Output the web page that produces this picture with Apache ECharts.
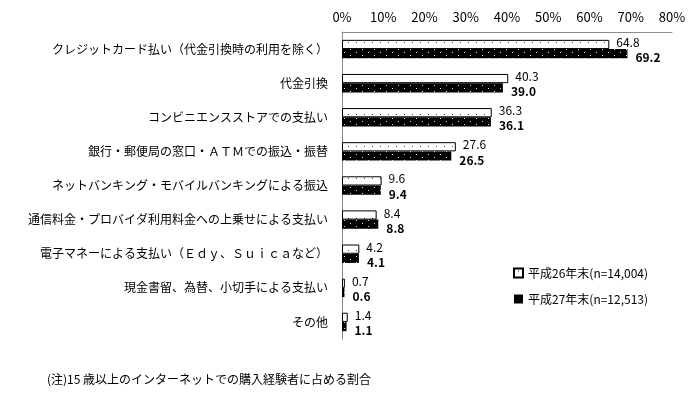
<!DOCTYPE html>
<html lang="ja">
<head>
    <meta charset="UTF-8">
    <title>購入時の決済方法</title>
    <style>
        html, body { margin: 0; padding: 0; background: #fff; }
        #container { width: 700px; height: 400px; }
    </style>
</head>
<body>
    <div id="container"></div>
    <script type="text/javascript" src="https://cdn.jsdelivr.net/npm/echarts@6/dist/echarts.min.js"></script>
    <script type="text/javascript">
        var categories = [
            'クレジットカード払い（代金引換時の利用を除く）',
            '代金引換',
            'コンビニエンスストアでの支払い',
            '銀行・郵便局の窓口・ＡＴＭでの振込・振替',
            'ネットバンキング・モバイルバンキングによる振込',
            '通信料金・プロバイダ利用料金への上乗せによる支払い',
            '電子マネーによる支払い（Ｅｄｙ、Ｓｕｉｃａなど）',
            '現金書留、為替、小切手による支払い',
            'その他'
        ];
        var seriesNames = ['平成26年末(n=14,004)', '平成27年末(n=12,513)'];
        var values2014 = [64.8, 40.3, 36.3, 27.6, 9.6, 8.4, 4.2, 0.7, 1.4];
        var values2015 = [69.2, 39.0, 36.1, 26.5, 9.4, 8.8, 4.1, 0.6, 1.1];
        var xMin = 0, xMax = 80, xStep = 10;
        var note = '(注)15 歳以上のインターネットでの購入経験者に占める割合';

        var font = '"Noto Sans CJK JP", "Noto Sans", sans-serif';

        // 点々の塗りパターン
        function makePattern(w, h, bg, fg, dots, size) {
            var c = document.createElement('canvas');
            c.width = w;
            c.height = h;
            var ctx = c.getContext('2d');
            ctx.fillStyle = bg;
            ctx.fillRect(0, 0, w, h);
            ctx.fillStyle = fg;
            dots.forEach(function (d) {
                ctx.fillRect(d[0], d[1], size, size);
            });
            return { image: c, repeat: 'repeat' };
        }
        var whiteDots = makePattern(8, 8, '#ffffff', '#444444', [[4, 2]], 1);
        var blackDots = makePattern(12, 6, '#000000', '#dddddd', [[2, 1], [8, 4]], 1);

        var myChart = echarts.init(document.getElementById('container'));
        var option = {
            animation: false,
            textStyle: { fontFamily: font },
            title: {
                text: note,
                left: 42,
                top: 368,
                textStyle: { fontSize: 12, fontWeight: 'normal', color: '#000', fontFamily: font }
            },
            legend: {
                data: [
                    { name: seriesNames[0] },
                    { name: seriesNames[1], itemStyle: { color: '#000' } }
                ],
                orient: 'vertical',
                left: 508,
                top: 262,
                itemWidth: 9,
                itemHeight: 9,
                itemGap: 14,
                icon: 'rect',
                textStyle: { fontSize: 12, color: '#000', fontFamily: font }
            },
            grid: {
                left: 342,
                right: 28,
                top: 32,
                bottom: 61
            },
            xAxis: {
                type: 'value',
                position: 'top',
                min: xMin,
                max: xMax,
                interval: xStep,
                splitLine: { show: false },
                axisTick: { show: false },
                axisLine: { show: true, lineStyle: { color: '#8c8c8c', width: 1 } },
                axisLabel: {
                    margin: 8,
                    fontSize: 13,
                    color: '#000',
                    formatter: '{value}%'
                }
            },
            yAxis: {
                type: 'category',
                inverse: true,
                data: categories,
                axisTick: { show: false },
                axisLine: { show: true, lineStyle: { color: '#8c8c8c', width: 1 } },
                axisLabel: {
                    margin: 14,
                    fontSize: 12,
                    color: '#000'
                }
            },
            series: [
                {
                    name: seriesNames[0],
                    type: 'bar',
                    data: values2014,
                    barGap: '0%',
                    barCategoryGap: '46%',
                    itemStyle: { color: whiteDots, borderColor: '#000', borderWidth: 1 },
                    label: {
                        show: true,
                        position: 'right',
                        distance: 7,
                        offset: [0, -2],
                        fontSize: 12,
                        color: '#000',
                        formatter: function (p) { return p.value.toFixed(1); }
                    }
                },
                {
                    name: seriesNames[1],
                    type: 'bar',
                    data: values2015,
                    barGap: '0%',
                    barCategoryGap: '46%',
                    itemStyle: { color: blackDots, borderColor: '#000', borderWidth: 0 },
                    label: {
                        show: true,
                        position: 'right',
                        distance: 8,
                        offset: [0, 4],
                        fontSize: 12,
                        fontWeight: 'bold',
                        color: '#000',
                        formatter: function (p) { return p.value.toFixed(1); }
                    }
                }
            ]
        };
        myChart.setOption(option);
    </script>
</body>
</html>
